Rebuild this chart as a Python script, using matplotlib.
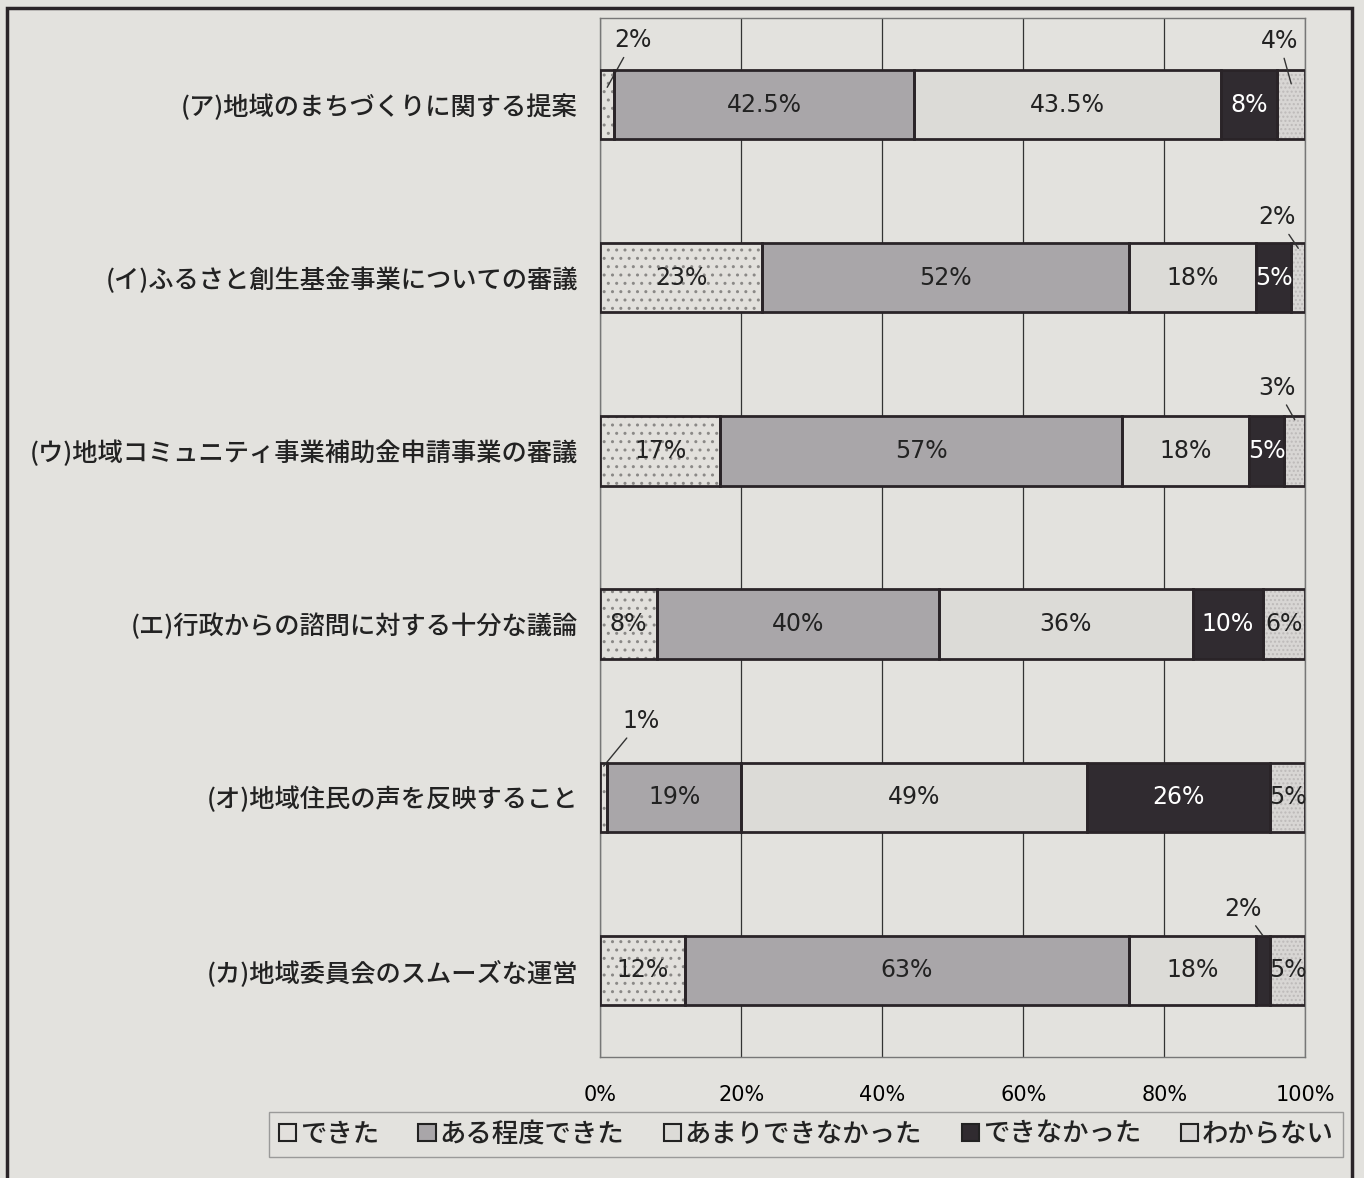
import matplotlib.pyplot as plt
from matplotlib.patches import Rectangle, Patch

plt.rcParams['font.family'] = ['Noto Sans CJK JP', 'DejaVu Sans']

# data
items = ['(ア)地域のまちづくりに関する提案',
         '(イ)ふるさと創生基金事業についての審議',
         '(ウ)地域コミュニティ事業補助金申請事業の審議',
         '(エ)行政からの諮問に対する十分な議論',
         '(オ)地域住民の声を反映すること',
         '(カ)地域委員会のスムーズな運営']
series = ['できた', 'ある程度できた', 'あまりできなかった', 'できなかった', 'わからない']
dekita = [2, 23, 17, 8, 1, 12]
aru_teido = [42.5, 52, 57, 40, 19, 63]
amari = [43.5, 18, 18, 36, 49, 18]
dekinakatta = [8, 5, 5, 10, 26, 2]
wakaranai = [4, 2, 3, 6, 5, 5]
values = [dekita, aru_teido, amari, dekinakatta, wakaranai]
labels = [['2%', '23%', '17%', '8%', '1%', '12%'],
          ['42.5%', '52%', '57%', '40%', '19%', '63%'],
          ['43.5%', '18%', '18%', '36%', '49%', '18%'],
          ['8%', '5%', '5%', '10%', '26%', '2%'],
          ['4%', '2%', '3%', '6%', '5%', '5%']]

bg = '#e3e2de'
fills = ['#e2e0dc', '#a9a6a9', '#dcdbd7', '#302b30', '#d8d6d4']
hatches = ['..', None, None, None, '....']
hatch_cols = ['#8a8886', None, None, None, '#bdbab9']
text_cols = ['#222', '#222', '#222', 'white', '#222']

# small segments labelled outside with a leader line: (series, row) -> offset px, y of anchor
outside = {(0, 0): (26, 47, -0.1), (4, 0): (-12, 43, -0.12),
           (4, 1): (-21, 31, -0.17), (4, 2): (-18, 32, -0.18),
           (0, 4): (37, 45, -0.18), (3, 5): (-20, 27, -0.2)}

fig = plt.figure(figsize=(13.64, 11.78), dpi=100, facecolor=bg)
ax = fig.add_axes([0.44, 0.1027, 0.517, 0.882], facecolor=bg)

num_font = ['Liberation Sans Narrow', 'DejaVu Sans Condensed', 'DejaVu Sans']
y = list(range(len(items)))
left = [0] * len(items)
for s in range(len(series)):
    vals = values[s]
    ax.barh(y, vals, left=left, height=0.4, color=fills[s], hatch=hatches[s],
            edgecolor=hatch_cols[s] if hatch_cols[s] else fills[s], linewidth=0, zorder=2)
    ax.barh(y, vals, left=left, height=0.4, fill=False, edgecolor='#2a2428',
            linewidth=2, zorder=3)
    for i in y:
        cx = left[i] + vals[i] / 2
        if (s, i) in outside:
            dx, dy, yo = outside[(s, i)]
            ax.annotate(labels[s][i], xy=(cx, i + yo), xytext=(dx, dy),
                        textcoords='offset pixels', ha='center', va='center',
                        fontsize=17, family=num_font, color='#222',
                        arrowprops=dict(arrowstyle='-', color='#333', lw=1,
                                        shrinkA=2, shrinkB=0))
        else:
            ax.text(cx, i, labels[s][i], ha='center', va='center', fontsize=17,
                    family=num_font, color=text_cols[s], zorder=4)
    left = [left[i] + vals[i] for i in y]

ax.set_xlim(0, 100)
ax.set_ylim(len(items) - 0.5, -0.5)
ax.set_xticks([0, 20, 40, 60, 80, 100])
ax.set_xticklabels(['0%', '20%', '40%', '60%', '80%', '100%'], family=num_font, fontsize=15)
ax.set_yticks(y)
ax.set_yticklabels(items, fontsize=18.2, color='#222', fontweight='medium')
ax.tick_params(length=0, pad=16)
ax.tick_params(axis='x', pad=20)
ax.grid(axis='x', color='#333', linewidth=0.9, zorder=0)
for sp in ax.spines.values():
    sp.set_color('#777')
    sp.set_linewidth(1)

# legend
handles = [Patch(facecolor=fills[s], edgecolor='#222', linewidth=1.5) for s in range(len(series))]
leg = fig.legend(handles, series, loc='center', bbox_to_anchor=(0.591, 0.037), ncol=5,
                 fontsize=19, frameon=True, fancybox=False, handlelength=0.65,
                 handleheight=0.65, handletextpad=0.15, columnspacing=1.5,
                 borderpad=0.35, labelcolor='#222', prop={'size': 19, 'weight': 'medium'})
leg.get_frame().set_facecolor(bg)
leg.get_frame().set_edgecolor('#888')
leg.get_frame().set_linewidth(1)

# outer frame
fig.patches.append(Rectangle((0.005, -0.01), 0.986, 1.003, transform=fig.transFigure,
                             fill=False, edgecolor='#2a2428', linewidth=2.5))

fig.savefig('out.png', dpi=100, facecolor=bg)
